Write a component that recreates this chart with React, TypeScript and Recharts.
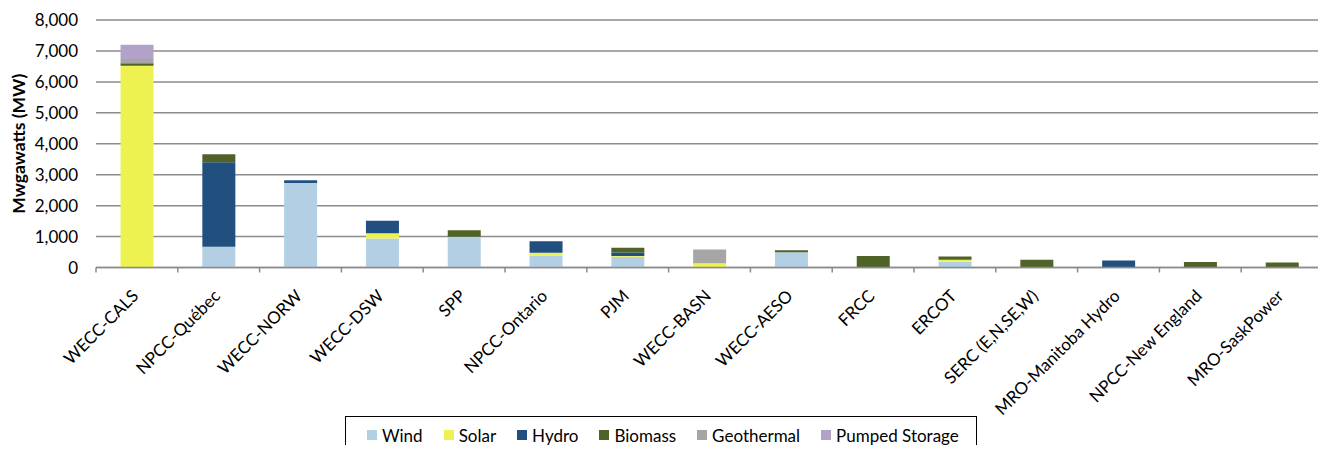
import React from 'react';
import { BarChart, Bar, XAxis, YAxis, CartesianGrid, Legend } from 'recharts';

const categories = [
  'WECC-CALS', 'NPCC-Québec', 'WECC-NORW', 'WECC-DSW', 'SPP', 'NPCC-Ontario', 'PJM',
  'WECC-BASN', 'WECC-AESO', 'FRCC', 'ERCOT', 'SERC (E,N,SE,W)', 'MRO-Manitoba Hydro',
  'NPCC-New England', 'MRO-SaskPower',
];
const wind = [0, 670, 2730, 940, 995, 390, 345, 0, 495, 0, 185, 0, 0, 20, 20];
const solar = [6520, 0, 0, 165, 0, 85, 30, 140, 0, 0, 65, 0, 0, 0, 0];
const hydro = [0, 2730, 90, 410, 0, 375, 110, 0, 0, 0, 0, 0, 225, 0, 0];
const biomass = [80, 260, 0, 0, 210, 0, 150, 0, 65, 370, 105, 250, 0, 155, 140];
const geothermal = [140, 0, 0, 0, 0, 0, 0, 445, 0, 0, 0, 0, 0, 0, 0];
const pumpedStorage = [460, 0, 0, 0, 0, 0, 0, 0, 0, 0, 0, 0, 0, 0, 0];
const yTicks = [0, 1000, 2000, 3000, 4000, 5000, 6000, 7000, 8000];

const seriesDefs = [
  { key: 'wind', name: 'Wind', color: '#B2CFE4', values: wind },
  { key: 'solar', name: 'Solar', color: '#EEF250', values: solar },
  { key: 'hydro', name: 'Hydro', color: '#214F80', values: hydro },
  { key: 'biomass', name: 'Biomass', color: '#4F6228', values: biomass },
  { key: 'geothermal', name: 'Geothermal', color: '#A6A6A6', values: geothermal },
  { key: 'pumped', name: 'Pumped Storage', color: '#B3A2C7', values: pumpedStorage },
];

const data = categories.map((name, i) => {
  const row: Record<string, string | number> = { name };
  seriesDefs.forEach((s) => { row[s.key] = s.values[i]; });
  return row;
});

const FONT = 'Lato, "Open Sans", sans-serif';
const GRID = '#8c8c8c';
const LABEL_GAP = 25;

const CatTick = (props: any) => {
  const { x, y, payload, index } = props;
  const axisY = y - LABEL_GAP;
  const half = payload && typeof payload.offset === 'number' ? payload.offset : 0;
  const tx = x - 2;
  return (
    <g>
      <line x1={x - half} x2={x - half} y1={axisY} y2={axisY + 5} stroke={GRID} strokeWidth={1.5} />
      {index === categories.length - 1 && (
        <line x1={x + half} x2={x + half} y1={axisY} y2={axisY + 5} stroke={GRID} strokeWidth={1.5} />
      )}
      <text
        x={0}
        y={0}
        transform={`translate(${tx} ${y}) rotate(-45)`}
        textAnchor="end"
        dominantBaseline="central"
        fontFamily={FONT}
        fontSize={17}
        fill="#000"
      >
        {payload.value}
      </text>
    </g>
  );
};

const YLabel = (props: any) => {
  const { viewBox } = props;
  const cx = viewBox.x + 10;
  const cy = viewBox.y + viewBox.height / 2;
  return (
    <text
      x={cx}
      y={cy}
      transform={`rotate(-90, ${cx}, ${cy})`}
      textAnchor="middle"
      dominantBaseline="central"
      fontFamily={FONT}
      fontWeight="bold"
      fontSize={17.5}
      fill="#000"
    >
      Mwgawatts (MW)
    </text>
  );
};

const LegendBox = () => (
  <div
    style={{
      boxSizing: 'border-box',
      width: '100%',
      height: 38,
      borderTop: '1.5px solid #000',
      borderLeft: '1.5px solid #000',
      borderRight: '1.5px solid #000',
      display: 'flex',
      alignItems: 'center',
      paddingLeft: 21,
      fontFamily: FONT,
      fontSize: 17,
      color: '#000',
      whiteSpace: 'nowrap',
      overflow: 'hidden',
    }}
  >
    {seriesDefs.map((s) => (
      <div key={s.key} style={{ display: 'flex', alignItems: 'center', marginRight: 21, flexShrink: 0 }}>
        <span style={{ display: 'inline-block', width: 10, height: 10, background: s.color, marginRight: 5 }} />
        <span>{s.name}</span>
      </div>
    ))}
  </div>
);

export default function App() {
  return (
    <div style={{ width: 1318, height: 445, marginBottom: -8 }}>
      <BarChart
        width={1318}
        height={445}
        data={data}
        margin={{ top: 12, right: 3, left: 0, bottom: 0 }}
        barCategoryGap="30%"
      >
        <CartesianGrid vertical={false} stroke={GRID} strokeWidth={1.5} />
        <XAxis
          dataKey="name"
          interval={0}
          height={185.5}
          axisLine={{ stroke: GRID, strokeWidth: 1.5 }}
          tickLine={false}
          tickSize={0}
          tickMargin={LABEL_GAP}
          tick={<CatTick />}
        />
        <YAxis
          width={88}
          domain={[0, 8000]}
          ticks={yTicks}
          interval={0}
          axisLine={false}
          tickLine={false}
          tickSize={0}
          tickMargin={18}
          tickFormatter={(v: number) => v.toLocaleString('en-US')}
          tick={{ fontFamily: FONT, fontSize: 17, fill: '#000' }}
          label={<YLabel />}
        />
        <Legend
          layout="horizontal"
          verticalAlign="middle"
          align="center"
          wrapperStyle={{ top: 407.7, left: 337, width: 632, height: 38 }}
          content={<LegendBox />}
        />
        {seriesDefs.map((s) => (
          <Bar key={s.key} dataKey={s.key} name={s.name} stackId="a" fill={s.color} isAnimationActive={false} />
        ))}
      </BarChart>
    </div>
  );
}
